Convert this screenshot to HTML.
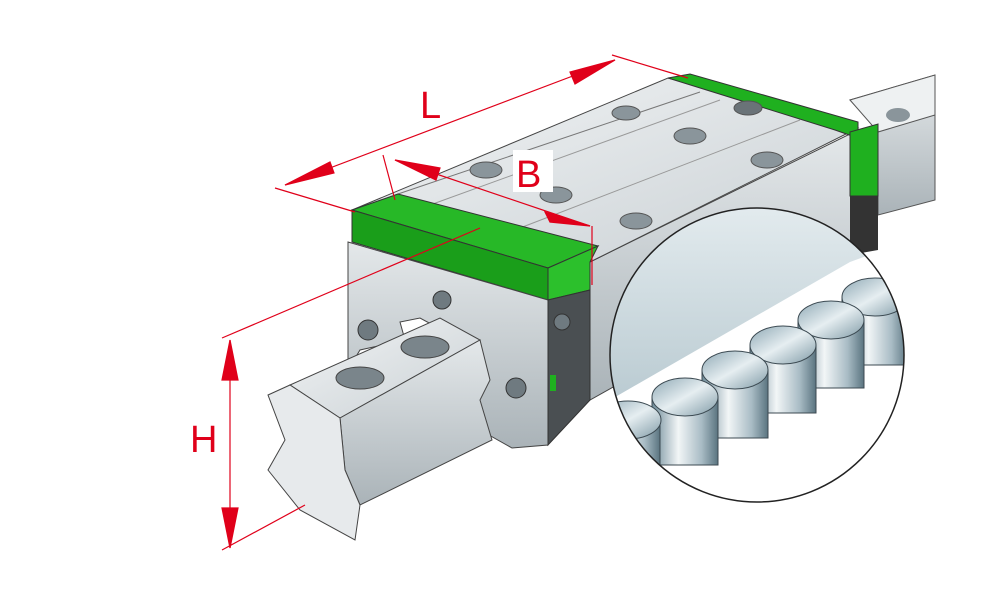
<!DOCTYPE html>
<html><head><meta charset="utf-8"><style>
html,body{margin:0;padding:0;background:#fff;}
svg{display:block}
text{font-family:"Liberation Sans",sans-serif;}
</style></head><body>
<svg width="1000" height="611" viewBox="0 0 1000 611" xmlns="http://www.w3.org/2000/svg">
<defs>
<linearGradient id="mt" x1="0" y1="0" x2="1" y2="1"><stop offset="0" stop-color="#f2f4f5"/><stop offset="1" stop-color="#c9d0d4"/></linearGradient>
<linearGradient id="sd" x1="0" y1="0" x2="0" y2="1"><stop offset="0" stop-color="#e4e8ea"/><stop offset="1" stop-color="#aab3b8"/></linearGradient>
<linearGradient id="cyl" x1="0" y1="0" x2="1" y2="0"><stop offset="0" stop-color="#6f8c99"/><stop offset="0.4" stop-color="#f2f6f7"/><stop offset="0.75" stop-color="#a9bcc5"/><stop offset="1" stop-color="#5a7480"/></linearGradient>
<linearGradient id="top" x1="0" y1="0" x2="1" y2="1"><stop offset="0" stop-color="#8fa9b5"/><stop offset="0.5" stop-color="#e6eef1"/><stop offset="1" stop-color="#7f9aa6"/></linearGradient>
<linearGradient id="band" x1="0" y1="0" x2="0" y2="1"><stop offset="0" stop-color="#e4ecef"/><stop offset="1" stop-color="#b9cad1"/></linearGradient>
<clipPath id="cc"><circle cx="757" cy="355" r="147"/></clipPath>
</defs>
<polygon points="850,100 935,75 935,200 878,215 878,130" fill="url(#sd)" stroke="#555" stroke-width="1"/>
<polygon points="850,100 935,75 935,115 878,132" fill="#eef1f2" stroke="#555" stroke-width="1"/>
<ellipse cx="898" cy="115" rx="12" ry="7" fill="#8a959b"/>
<polygon points="590,262 858,130 858,250 590,400" fill="url(#sd)" stroke="#444" stroke-width="1"/>
<polygon points="352,210 668,78 858,128 590,262" fill="url(#mt)" stroke="#444" stroke-width="1"/>
<polyline points="395,195 700,92" stroke="#777" fill="none"/>
<polyline points="430,205 720,100" stroke="#999" fill="none"/>
<polyline points="520,228 800,120" stroke="#999" fill="none"/>
<polygon points="668,78 690,74 858,122 858,138 835,130" fill="#1fb01f" stroke="#333"/>
<polygon points="850,132 878,124 878,196 850,196" fill="#1fb01f" stroke="#333"/>
<polygon points="850,196 878,196 878,250 850,255" fill="#333"/>
<g fill="#8a959b" stroke="#555">
<ellipse cx="626" cy="113" rx="14" ry="7"/><ellipse cx="690" cy="136" rx="16" ry="8"/><ellipse cx="767" cy="160" rx="16" ry="8"/>
<ellipse cx="486" cy="170" rx="16" ry="8"/><ellipse cx="556" cy="195" rx="16" ry="8"/><ellipse cx="636" cy="221" rx="16" ry="8"/>
<ellipse cx="748" cy="108" rx="14" ry="7" fill="#6a7378"/><ellipse cx="485" cy="227" rx="16" ry="9" fill="#6a7378"/>
</g>
<polygon points="352,210 398,194 598,246 548,268" fill="#27b827" stroke="#333"/>
<polygon points="352,210 548,268 548,300 352,242" fill="#1a9e1a" stroke="#333"/>
<polygon points="548,268 598,246 590,262 590,290 548,300" fill="#2cc02c" stroke="#333"/>
<polygon points="348,242 548,300 548,445 512,448 480,430 470,345 420,318 400,322 405,340 360,350 348,370" fill="url(#sd)" stroke="#444"/>
<polygon points="548,300 590,290 590,400 548,445" fill="#4a4f52" stroke="#333"/>
<g fill="#6f7a80" stroke="#333"><circle cx="442" cy="300" r="9"/><circle cx="368" cy="330" r="10"/><circle cx="516" cy="388" r="10"/><circle cx="562" cy="322" r="8"/></g>
<rect x="550" y="375" width="6" height="16" fill="#1fb01f"/>
<polygon points="290,385 440,318 480,340 340,418" fill="url(#mt)" stroke="#444"/>
<polygon points="480,340 490,380 480,400 492,440 360,505 345,470 340,418" fill="url(#sd)" stroke="#444"/>
<polygon points="268,395 290,385 340,418 345,470 360,505 355,540 300,510 268,470 285,440" fill="#e7eaec" stroke="#444"/>
<ellipse cx="360" cy="378" rx="24" ry="11" fill="#7a858b" stroke="#444"/>
<ellipse cx="425" cy="347" rx="24" ry="11" fill="#7a858b" stroke="#444"/>
<circle cx="757" cy="355" r="147" fill="#fff"/>
<g clip-path="url(#cc)">
<polygon points="600,200 910,200 910,240 850,262 610,400 600,405" fill="url(#band)"/>
<g stroke="#3c4a52" stroke-width="1">
<rect x="842" y="297" width="66" height="68" fill="url(#cyl)"/><ellipse cx="875" cy="297" rx="33" ry="19" fill="url(#top)"/>
<rect x="798" y="320" width="66" height="68" fill="url(#cyl)"/><ellipse cx="831" cy="320" rx="33" ry="19" fill="url(#top)"/>
<rect x="750" y="345" width="66" height="68" fill="url(#cyl)"/><ellipse cx="783" cy="345" rx="33" ry="19" fill="url(#top)"/>
<rect x="702" y="370" width="66" height="68" fill="url(#cyl)"/><ellipse cx="735" cy="370" rx="33" ry="19" fill="url(#top)"/>
<rect x="652" y="397" width="66" height="68" fill="url(#cyl)"/><ellipse cx="685" cy="397" rx="33" ry="19" fill="url(#top)"/>
<rect x="598" y="420" width="62" height="68" fill="url(#cyl)"/><ellipse cx="628" cy="420" rx="33" ry="19" fill="url(#top)"/>
</g>
</g>
<circle cx="757" cy="355" r="147" fill="none" stroke="#222" stroke-width="1.5"/>
<g stroke="#e0001a" stroke-width="1.2" fill="#e0001a">
<line x1="275" y1="188" x2="355" y2="212"/><line x1="612" y1="55" x2="688" y2="78"/>
<line x1="285" y1="185" x2="615" y2="60"/>
<polygon points="285,185 330,162 334,173"/><polygon points="615,60 570,72 575,84"/>
<line x1="383" y1="155" x2="395" y2="200"/><line x1="395" y1="160" x2="590" y2="226"/><line x1="592" y1="226" x2="592" y2="285"/>
<polygon points="395,160 440,168 436,180"/><polygon points="590,226 545,212 550,222"/>
<line x1="222" y1="338" x2="480" y2="228"/><line x1="222" y1="550" x2="305" y2="505"/>
<line x1="230" y1="340" x2="230" y2="548"/>
<polygon points="230,340 222,380 238,380"/><polygon points="230,548 222,508 238,508"/>
</g>
<rect x="513" y="150" width="40" height="42" fill="#fff"/>
<text x="420" y="118" font-size="38" fill="#e0001a">L</text>
<text x="516" y="187" font-size="38" fill="#e0001a">B</text>
<text x="190" y="452" font-size="38" fill="#e0001a">H</text>
</svg>
</body></html>
